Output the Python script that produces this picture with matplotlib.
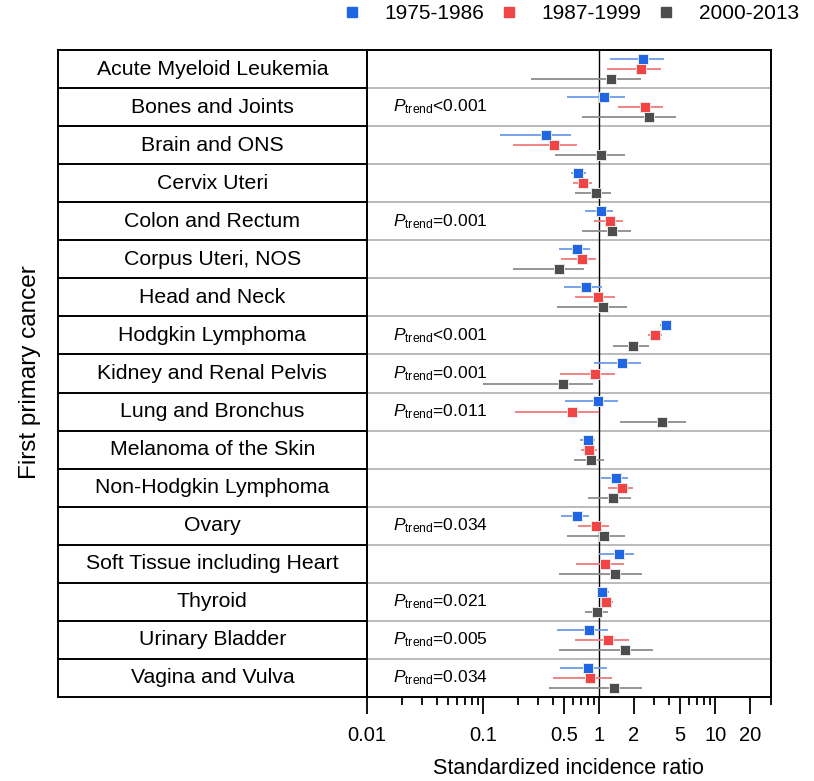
import numpy as np
import matplotlib
matplotlib.use("Agg")
import matplotlib.pyplot as plt
from matplotlib.lines import Line2D
from matplotlib.ticker import FixedLocator, NullFormatter

plt.rcParams['font.family'] = ['Liberation Sans', 'DejaVu Sans']
plt.rcParams['mathtext.fontset'] = 'custom'
plt.rcParams['mathtext.rm'] = 'Liberation Sans'
plt.rcParams['mathtext.it'] = 'Liberation Sans:italic'

cancers = ['Acute Myeloid Leukemia', 'Bones and Joints', 'Brain and ONS', 'Cervix Uteri',
           'Colon and Rectum', 'Corpus Uteri, NOS', 'Head and Neck', 'Hodgkin Lymphoma',
           'Kidney and Renal Pelvis', 'Lung and Bronchus', 'Melanoma of the Skin',
           'Non-Hodgkin Lymphoma', 'Ovary', 'Soft Tissue including Heart', 'Thyroid',
           'Urinary Bladder', 'Vagina and Vulva']

periods = ['1975-1986', '1987-1999', '2000-2013']

# SIR and 95% CI, 1975-1986
sir_1 = [2.41, 1.10, 0.348, 0.663, 1.03, 0.647, 0.778, 3.77, 1.59, 0.986, 0.804, 1.40, 0.643, 1.50, 1.07, 0.820, 0.804]
lo_1 = [1.24, 0.527, 0.141, 0.574, 0.762, 0.456, 0.500, 3.35, 0.911, 0.509, 0.686, 1.05, 0.474, 1.00, 0.955, 0.438, 0.465]
hi_1 = [3.65, 1.67, 0.570, 0.768, 1.33, 0.837, 1.06, 4.27, 2.29, 1.47, 0.929, 1.79, 0.826, 2.01, 1.21, 1.20, 1.16]

# 1987-1999
sir_2 = [2.30, 2.49, 0.410, 0.733, 1.24, 0.710, 0.986, 3.05, 0.918, 0.589, 0.826, 1.58, 0.936, 1.13, 1.15, 1.19, 0.837]
lo_2 = [1.18, 1.45, 0.181, 0.601, 0.906, 0.474, 0.621, 2.66, 0.462, 0.190, 0.705, 1.20, 0.663, 0.634, 1.03, 0.621, 0.399]
hi_2 = [3.42, 3.53, 0.643, 0.877, 1.62, 0.942, 1.37, 3.51, 1.37, 1.00, 0.955, 1.95, 1.21, 1.65, 1.33, 1.80, 1.29]

# 2000-2013
sir_3 = [1.26, 2.68, 1.03, 0.936, 1.29, 0.456, 1.09, 1.97, 0.487, 3.51, 0.848, 1.33, 1.10, 1.37, 0.961, 1.67, 1.35]
lo_3 = [0.258, 0.72, 0.418, 0.621, 0.714, 0.181, 0.438, 1.31, 0.101, 1.52, 0.613, 0.798, 0.527, 0.453, 0.762, 0.456, 0.369]
hi_3 = [2.29, 4.63, 1.67, 1.26, 1.87, 0.748, 1.73, 2.69, 0.883, 5.57, 1.10, 1.90, 1.67, 2.33, 1.19, 2.93, 2.36]

ptrend = {1: '<0.001', 4: '=0.001', 7: '<0.001', 8: '=0.001', 9: '=0.011',
          12: '=0.034', 14: '=0.021', 15: '=0.005', 16: '=0.034'}

colors = ['#1F66E5', '#F24444', '#4D4D4D']
ci_colors = ['#6E9BEA', '#F07A7A', '#8C8C8C']
offsets = [-0.265, 0.0, 0.265]

fig = plt.figure(figsize=(8.14, 7.81), dpi=100)
bot = 1 - 697 / 781
hgt = (697 - 50) / 781
axl = fig.add_axes([58 / 814, bot, (366.7 - 58) / 814, hgt])
ax = fig.add_axes([366.7 / 814, bot, (770.6 - 366.7) / 814, hgt])

n = len(cancers)

# label table
axl.set_xlim(0, 1)
axl.set_ylim(n, 0)
axl.set_xticks([])
axl.set_yticks([])
for s in axl.spines.values():
    s.set_linewidth(1.4)
for i in range(1, n):
    axl.axhline(i, color='black', lw=1.4)
for i, c in enumerate(cancers):
    axl.text(0.5, i + 0.5, c, ha='center', va='center', fontsize=15.3)

# forest panel
ax.set_xscale('log')
ax.set_xlim(0.01, 30)
ax.set_ylim(n, 0)
ax.set_yticks([])
for s in ax.spines.values():
    s.set_linewidth(1.4)
for i in range(1, n):
    ax.axhline(i, color='#A8A8A8', lw=1.1, zorder=1)
ax.axvline(1, color='black', lw=1.0, zorder=2)

y = np.arange(n) + 0.5
series = [(sir_1, lo_1, hi_1), (sir_2, lo_2, hi_2), (sir_3, lo_3, hi_3)]
for k, (est, lo, hi) in enumerate(series):
    yy = y + offsets[k]
    ax.hlines(yy, lo, hi, color=ci_colors[k], lw=1.3, zorder=3)
    ax.plot(est, yy, 's', color=colors[k], ms=7.5, mec='#E8E8E8', mew=0.7,
            linestyle='none', zorder=4)

for i, txt in ptrend.items():
    ax.text(0.065, i + 0.5, r'$\mathit{P}_{\mathrm{trend}}$' + txt,
            transform=ax.get_yaxis_transform(), ha='left', va='center', fontsize=12.5)

major = [0.01, 0.1, 0.5, 1, 2, 5, 10, 20]
minor = [0.02, 0.03, 0.04, 0.05, 0.06, 0.07, 0.08, 0.09,
         0.2, 0.3, 0.4, 0.6, 0.7, 0.8, 0.9, 3, 4, 6, 7, 8, 9, 30]
ax.xaxis.set_major_locator(FixedLocator(major))
ax.set_xticklabels(['0.01', '0.1', '0.5', '1', '2', '5', '10', '20'])
ax.xaxis.set_minor_locator(FixedLocator(minor))
ax.xaxis.set_minor_formatter(NullFormatter())
ax.tick_params(axis='x', which='major', length=12, width=1.3, labelsize=14.5, pad=9)
ax.tick_params(axis='x', which='minor', length=6, width=1.3)
ax.set_xlabel('Standardized incidence ratio', fontsize=15.5, labelpad=9)

fig.text(30 / 814, 1 - 372 / 781, 'First primary cancer', rotation=90,
         ha='center', va='center', fontsize=17.5)

handles = [Line2D([], [], marker='s', color=colors[k], linestyle='none', ms=7)
           for k in range(3)]
fig.legend(handles, periods, loc='upper right', bbox_to_anchor=(803 / 814, 1.0),
           ncol=3, frameon=False, fontsize=15, handlelength=1.0,
           handletextpad=1.05, columnspacing=0.7, borderaxespad=0.2, borderpad=0.0)

fig.savefig('out.png', dpi=100)
